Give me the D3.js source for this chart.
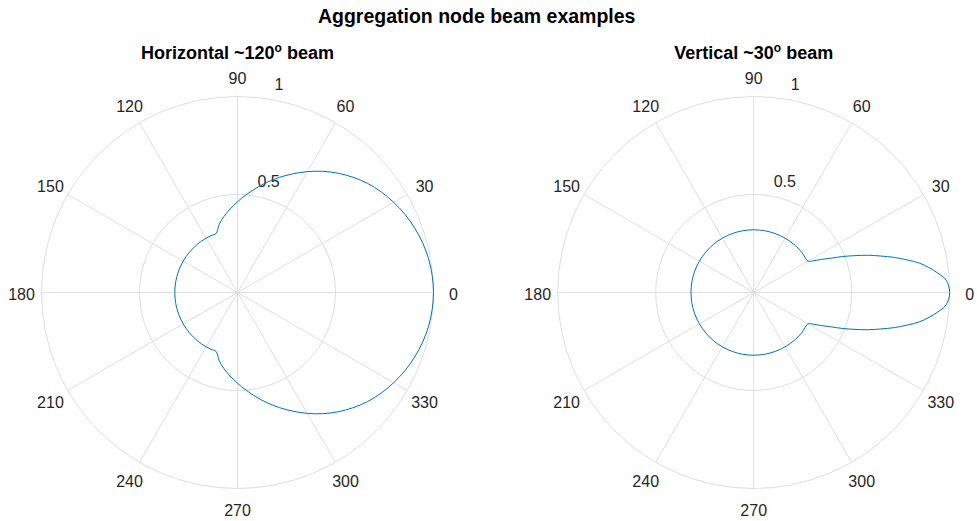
<!DOCTYPE html>
<html>
<head>
<meta charset="utf-8">
<script src="https://cdn.jsdelivr.net/npm/d3@7"></script>
<style>
	body { margin: 0; background: #fff; }
	svg { display: block; font-family: "Liberation Sans", Arial, Helvetica, sans-serif; }
</style>
</head>
<body>
<svg id="chart"></svg>
<script>
'use strict';

// figure title and subplot titles
var figureTitle = 'Aggregation node beam examples';
var panelTitles = [['Horizontal ~120', ' beam'], ['Vertical ~30', ' beam']];

// polar ticks
var thetaTicks = [0, 30, 60, 90, 120, 150, 180, 210, 240, 270, 300, 330];
var rTicks = [0.5, 1];

// horizontal beam, sampled every 5 degrees
var hAngles = [0, 5, 10, 15, 20, 25, 30, 35, 40, 45, 50, 55, 60, 65, 70, 75, 80, 85, 90, 95, 100, 105, 110,
	115, 120, 125, 130, 135, 140, 145, 150, 155, 160, 165, 170, 175, 180, 185, 190, 195, 200, 205, 210, 215, 220, 225, 230, 235, 240, 245,
	250, 255, 260, 265, 270, 275, 280, 285, 290, 295, 300, 305, 310, 315, 320, 325, 330, 335, 340, 345, 350, 355];
var hGain = [1.00, 0.997, 0.99, 0.978, 0.962, 0.943, 0.92, 0.895, 0.866, 0.832, 0.795, 0.755, 0.712, 0.668, 0.625, 0.582, 0.54, 0.50, 0.463, 0.428, 0.395, 0.36, 0.32,
	0.32, 0.32, 0.32, 0.32, 0.32, 0.32, 0.32, 0.32, 0.32, 0.32, 0.32, 0.32, 0.32, 0.32, 0.32, 0.32, 0.32, 0.32, 0.32, 0.32, 0.32, 0.32, 0.32, 0.32, 0.32, 0.32, 0.32,
	0.32, 0.36, 0.395, 0.428, 0.463, 0.50, 0.54, 0.582, 0.625, 0.668, 0.712, 0.755, 0.795, 0.832, 0.866, 0.895, 0.92, 0.943, 0.962, 0.978, 0.99, 0.997];

// vertical beam, finer near the main lobe
var vAngles = [0, 2, 4, 6, 8, 10, 12, 14, 16, 18, 20, 22, 24, 26, 28,
	30, 40, 50, 60, 70, 80, 90, 100, 110, 120, 130, 140, 150, 160, 170, 180, 190, 200, 210, 220, 230, 240, 250, 260, 270, 280, 290, 300, 310, 320, 330,
	332, 334, 336, 338, 340, 342, 344, 346, 348, 350, 352, 354, 356, 358];
var vGain = [1.00, 0.995, 0.98, 0.945, 0.905, 0.86, 0.80, 0.74, 0.675, 0.615, 0.55, 0.49, 0.43, 0.385, 0.345,
	0.32, 0.32, 0.32, 0.32, 0.32, 0.32, 0.32, 0.32, 0.32, 0.32, 0.32, 0.32, 0.32, 0.32, 0.32, 0.32, 0.32, 0.32, 0.32, 0.32, 0.32, 0.32, 0.32, 0.32, 0.32, 0.32, 0.32, 0.32, 0.32, 0.32, 0.32,
	0.345, 0.385, 0.43, 0.49, 0.55, 0.615, 0.675, 0.74, 0.80, 0.86, 0.905, 0.945, 0.98, 0.995];

var width = 977, height = 521;
var radius = 196, cy = 292.5;
var gridColor = '#dedede', lineColor = '#0072bd', textColor = '#262626';

var svg = d3.select('#chart')
	.attr('width', width)
	.attr('height', height);

// math angle (ccw from east) -> d3 radial angle (cw from north)
var toRad = function(deg) { return (90 - deg) * Math.PI / 180; };

/**
 * Draws one polar subplot centred at cx.
 */
var draw = function(cx, title, angles, gains) {
	var rScale = d3.scaleLinear().domain([0, 1]).range([0, radius]);
	var g = svg.append('g').attr('transform', 'translate(' + cx + ',' + cy + ')');

	// circles
	g.selectAll('circle.grid').data(rTicks)
		.enter().append('circle')
		.attr('class', 'grid')
		.attr('r', function(d) { return rScale(d); })
		.attr('fill', 'none')
		.attr('stroke', gridColor);

	// spokes
	g.selectAll('line.spoke').data(thetaTicks)
		.enter().append('line')
		.attr('class', 'spoke')
		.attr('x1', 0).attr('y1', 0)
		.attr('x2', function(d) { return rScale(1) * Math.cos(d * Math.PI / 180); })
		.attr('y2', function(d) { return -rScale(1) * Math.sin(d * Math.PI / 180); })
		.attr('stroke', gridColor);

	// theta labels
	var labelR = radius + 20;
	g.selectAll('text.theta').data(thetaTicks)
		.enter().append('text')
		.attr('class', 'theta')
		.attr('x', function(d) { return labelR * Math.cos(d * Math.PI / 180); })
		.attr('y', function(d) { return -labelR * Math.sin(d * Math.PI / 180) + 1.5; })
		.attr('text-anchor', 'middle')
		.attr('dominant-baseline', 'central')
		.attr('font-size', 16)
		.attr('fill', textColor)
		.text(function(d) { return d; });

	// r labels along the 80 degree direction
	g.selectAll('text.rtick').data(rTicks)
		.enter().append('text')
		.attr('class', 'rtick')
		.attr('x', function(d) { return rScale(d) * Math.cos(80 * Math.PI / 180) + 3; })
		.attr('y', function(d) { return -rScale(d) * Math.sin(80 * Math.PI / 180) - 15; })
		.attr('dominant-baseline', 'central')
		.attr('font-size', 16)
		.attr('fill', textColor)
		.text(function(d) { return d; });

	// beam pattern
	var data = angles.map(function(a, i) { return {a: a, r: gains[i]}; });
	var line = d3.lineRadial()
		.angle(function(d) { return toRad(d.a); })
		.radius(function(d) { return rScale(d.r); })
		.curve(d3.curveCatmullRomClosed);
	g.append('path')
		.datum(data)
		.attr('d', line)
		.attr('fill', 'none')
		.attr('stroke', lineColor)
		.attr('stroke-width', 1);

	// subplot title with superscript degree
	var t = svg.append('text')
		.attr('x', cx)
		.attr('y', 59)
		.attr('text-anchor', 'middle')
		.attr('font-size', 18)
		.attr('font-weight', 'bold')
		.attr('fill', '#000');
	t.append('tspan').text(title[0]);
	t.append('tspan').attr('dy', -7).attr('font-size', 12).text('o');
	t.append('tspan').attr('dy', 7).text(title[1]);
};

draw(237.5, panelTitles[0], hAngles, hGain);
draw(753.7, panelTitles[1], vAngles, vGain);

svg.append('text')
	.attr('x', 476.7)
	.attr('y', 22.5)
	.attr('text-anchor', 'middle')
	.attr('font-size', 19.5)
	.attr('font-weight', 'bold')
	.attr('fill', '#000')
	.text(figureTitle);
</script>
</body>
</html>
